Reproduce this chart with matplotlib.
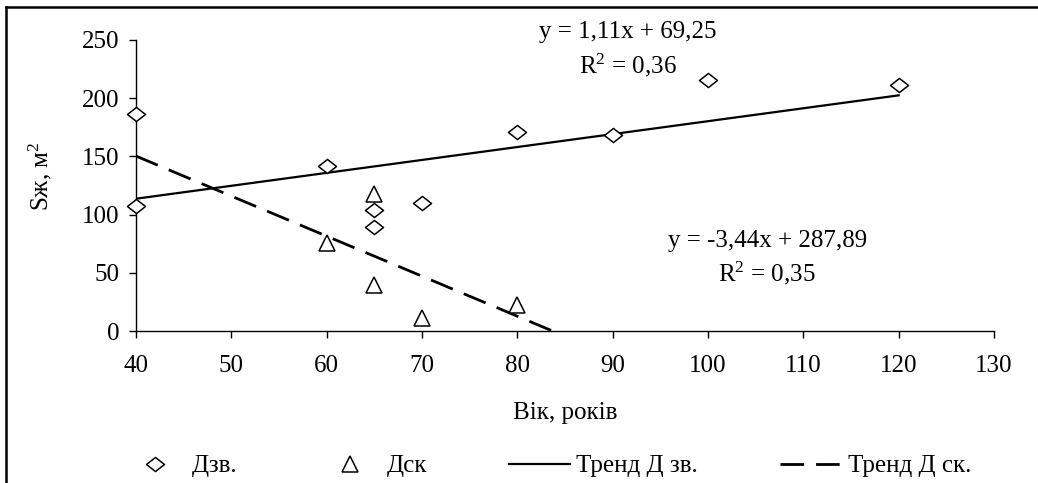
import numpy as np
import matplotlib
matplotlib.use("Agg")
import matplotlib.pyplot as plt
from matplotlib.lines import Line2D
from matplotlib.path import Path

# Дзв. (diamonds)
age_zv = [40, 40, 60, 65, 65, 70, 80, 90, 100, 120]
s_zv = [186, 107, 141.5, 104, 89, 110, 171, 168, 216, 211]

# Дск (triangles)
age_sk = [60, 65, 65, 70, 80]
s_sk = [76, 118, 39.5, 11, 22]

# trend lines as printed on the chart
trend_zv = (1.11, 69.25)
trend_sk = (-3.44, 287.89)
trend_zv_range = [40, 120]
trend_sk_range = [40, 83.6]

eq_zv = ["y = 1,11x + 69,25", "R$^2$ = 0,36"]
eq_sk = ["y = -3,44x + 287,89", "R$^2$ = 0,35"]

xticks = np.arange(40, 131, 10)
yticks = np.arange(0, 251, 50)

FS = 18
plt.rcParams['font.family'] = ['Liberation Serif', 'DejaVu Serif']
plt.rcParams['font.size'] = FS
plt.rcParams['mathtext.fontset'] = 'custom'
plt.rcParams['mathtext.rm'] = 'Liberation Serif'
plt.rcParams['mathtext.it'] = 'Liberation Serif'
plt.rcParams['mathtext.default'] = 'regular'

diamond = Path([(-1, 0), (0, 0.78), (1, 0), (0, -0.78), (-1, 0)],
               [Path.MOVETO, Path.LINETO, Path.LINETO, Path.LINETO, Path.CLOSEPOLY])


def main():
    fig = plt.figure(figsize=(10.38, 4.83), dpi=100)
    ax = fig.add_axes([136 / 1038, 1 - 331 / 483, (994 - 136) / 1038, (331 - 40) / 483])

    ax.plot(age_zv, s_zv, linestyle='none', marker=diamond, markersize=13,
            markerfacecolor='white', markeredgecolor='black', markeredgewidth=1.1,
            zorder=3, clip_on=False, label='Дзв.')
    ax.plot(age_sk, s_sk, linestyle='none', marker='^', markersize=11,
            markerfacecolor='white', markeredgecolor='black', markeredgewidth=1.1,
            zorder=3, clip_on=False, label='Дск')

    xz = np.array(trend_zv_range)
    ax.plot(xz, trend_zv[0] * xz + trend_zv[1], color='black', lw=1.6,
            label='Тренд Д зв.', zorder=2)
    xs = np.array(trend_sk_range)
    ax.plot(xs, trend_sk[0] * xs + trend_sk[1], color='black', lw=2.0,
            dashes=(8.5, 4.3), label='Тренд Д ск.', zorder=2)

    ax.set_xlim(40, 130)
    ax.set_ylim(0, 250)
    ax.set_xticks(xticks)
    ax.set_yticks(yticks)
    ax.spines['top'].set_visible(False)
    ax.spines['right'].set_visible(False)
    for s in ['left', 'bottom']:
        ax.spines[s].set_linewidth(1.0)
    ax.tick_params(axis='both', direction='out', length=5, width=1.0, labelsize=FS)
    ax.tick_params(axis='x', pad=12)
    ax.tick_params(axis='y', pad=7)

    ax.set_xlabel('Вік, років', fontsize=FS)
    ax.xaxis.set_label_coords(0.5, -0.245)
    ax.set_ylabel('Sж, м$^2$', fontsize=FS)
    ax.yaxis.set_label_coords(-0.096, 0.53)

    ax.text(91.6, 257, eq_zv[0], ha='center', va='center', clip_on=False)
    ax.text(91.6, 228, eq_zv[1], ha='center', va='center', clip_on=False)
    ax.text(106.2, 77, eq_sk[0], ha='center', va='center')
    ax.text(106.2, 49.5, eq_sk[1], ha='center', va='center')

    handles, labels = ax.get_legend_handles_labels()
    fig.legend(handles, labels, loc='center left', bbox_to_anchor=(124 / 1038, 1 - 466 / 483),
               ncol=4, frameon=False, fontsize=FS, handlelength=2.45,
               handletextpad=0.27, columnspacing=3.25, borderaxespad=0, borderpad=0)

    # outer chart frame (left and top edges visible)
    fig.add_artist(Line2D([6 / 1038, 6 / 1038], [-0.05, 1 - 7 / 483],
                          transform=fig.transFigure, color='black', lw=1.8))
    fig.add_artist(Line2D([6 / 1038, 1.05], [1 - 7 / 483, 1 - 7 / 483],
                          transform=fig.transFigure, color='black', lw=1.8))

    fig.savefig('out.png', dpi=100)


if __name__ == "__main__":
    main()
